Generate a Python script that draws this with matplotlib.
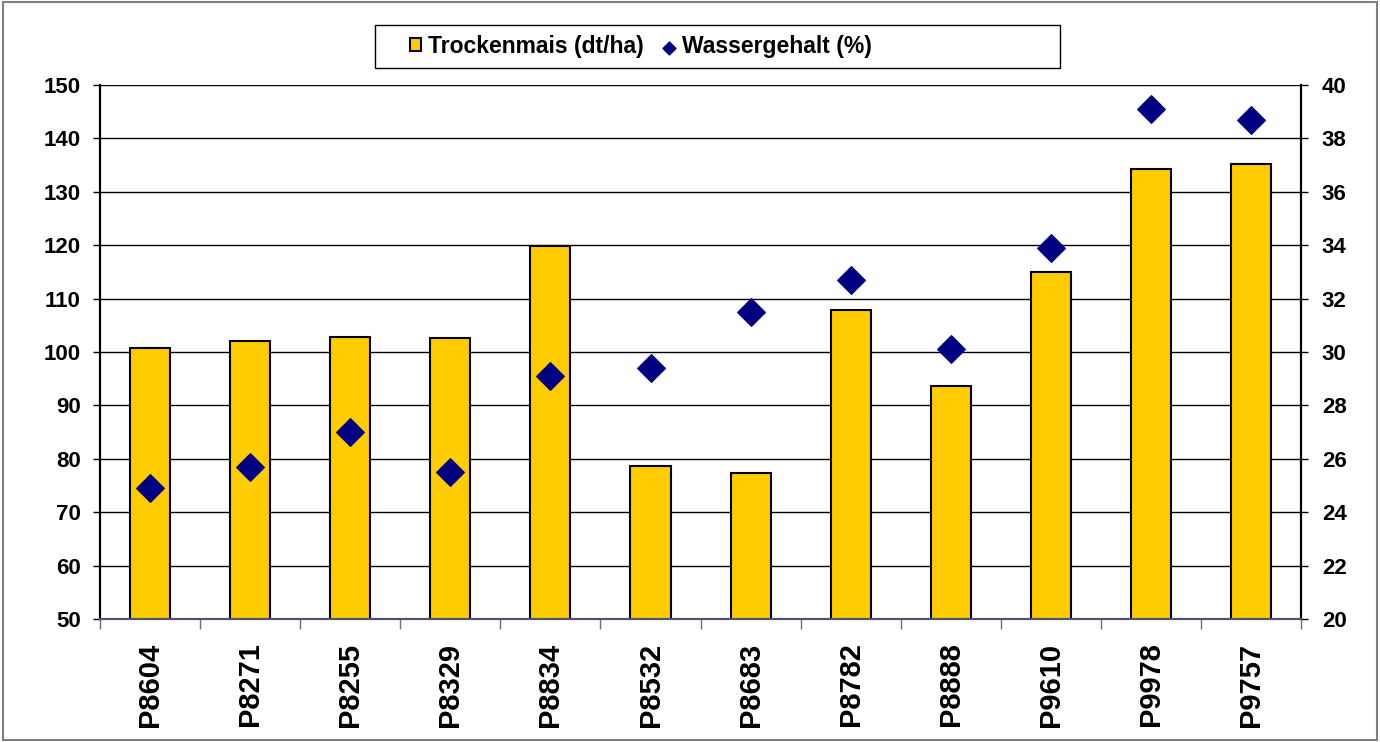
import numpy as np
import matplotlib.pyplot as plt
from matplotlib.patches import Rectangle

sorten = ["P8604", "P8271", "P8255", "P8329", "P8834", "P8532",
          "P8683", "P8782", "P8888", "P9610", "P9978", "P9757"]
trockenmais = [100.7, 102.0, 102.8, 102.7, 119.8, 78.6,
               77.3, 107.8, 93.7, 115.0, 134.2, 135.3]
wassergehalt = [24.9, 25.7, 27.0, 25.5, 29.1, 29.4,
                31.5, 32.7, 30.1, 33.9, 39.1, 38.7]
links_ticks = list(range(50, 151, 10))
rechts_ticks = list(range(20, 41, 2))

plt.rcParams['font.family'] = ['Liberation Sans', 'DejaVu Sans']
plt.rcParams['font.weight'] = 'bold'

fig = plt.figure(figsize=(13.8, 7.42), dpi=100)
ax = fig.add_axes([0.0725, 0.1658, 0.8703, 0.7196])
ax2 = ax.twinx()

x = np.arange(len(sorten))
bars = ax.bar(x, trockenmais, width=0.4, color='#FFCC00', edgecolor='black',
              linewidth=1.5, zorder=2, label='Trockenmais (dt/ha)')
ax.set_ylim(50, 150)
ax.set_yticks(links_ticks)
ax.set_yticklabels([str(v) for v in links_ticks], fontsize=16, fontweight='bold')
ax.set_xlim(-0.5, len(sorten) - 0.5)
ax.set_axisbelow(True)
ax.grid(axis='y', color='black', linewidth=1)
ax.set_xticks(x)
ax.set_xticklabels(sorten, rotation=90, fontsize=21, fontweight='bold')
ax.set_xticks(np.arange(-0.5, len(sorten), 1), minor=True)
ax.tick_params(axis='x', which='major', length=0, pad=17)
ax.tick_params(axis='x', which='minor', length=7, width=1, color='#6a6a90')
ax.tick_params(axis='y', length=5, width=1, pad=9)

pts = ax2.scatter(x, wassergehalt, marker='D', s=14**2, color='#000080',
                  zorder=3, label='Wassergehalt (%)')
ax2.set_ylim(20, 40)
ax2.set_yticks(rechts_ticks)
ax2.set_yticklabels([str(v) for v in rechts_ticks], fontsize=16, fontweight='bold')
ax2.tick_params(axis='y', length=5, width=1, pad=10)

for a in (ax, ax2):
    a.spines['top'].set_visible(False)
    a.spines['left'].set_linewidth(1.5)
    a.spines['right'].set_linewidth(1.5)
    a.spines['bottom'].set_color('#505070')
    a.spines['bottom'].set_linewidth(1.5)

leg = fig.legend([bars, pts], ['Trockenmais (dt/ha)', 'Wassergehalt (%)'],
                 loc='center left', bbox_to_anchor=(410 / 1380, 1 - 46.5 / 742),
                 ncol=2, fontsize=16.5, frameon=False,
                 handlelength=0.5, handleheight=0.5, handletextpad=0.3,
                 columnspacing=0.85, borderpad=0, borderaxespad=0,
                 markerscale=0.47)
for t in leg.get_texts():
    t.set_fontweight('bold')

# legend box as drawn by the original (wide, text left-aligned)
fig.patches.append(Rectangle((375 / 1380, 1 - 68 / 742), 685 / 1380, 43 / 742,
                             transform=fig.transFigure, fill=False,
                             edgecolor='black', linewidth=1))

fig.patches.append(Rectangle((0.002, 0.003), 0.996, 0.994, transform=fig.transFigure,
                             fill=False, edgecolor='#808080', linewidth=1.5))

fig.savefig('out.png', dpi=100)
